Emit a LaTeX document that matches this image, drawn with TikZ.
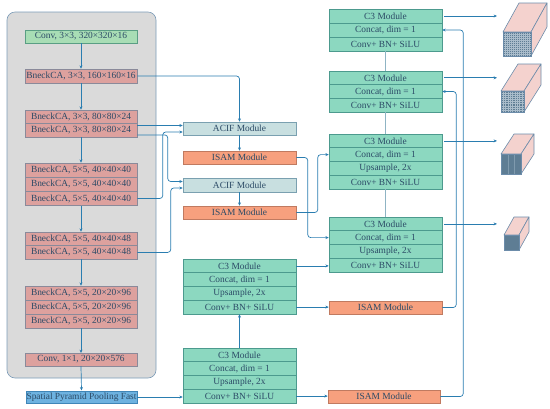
\documentclass[tikz,border=0pt]{standalone}
\usepackage{fontspec}
\setmainfont{Liberation Serif}
\usetikzlibrary{arrows.meta}
\definecolor{txt}{HTML}{2B4A66}
\definecolor{arrc}{HTML}{2A7DB0}
\definecolor{gfill}{HTML}{A8DDB5}
\definecolor{gdraw}{HTML}{5A9E84}
\definecolor{pfill}{HTML}{DDA19E}
\definecolor{pdraw}{HTML}{8A8A9A}
\definecolor{afill}{HTML}{C8DFE0}
\definecolor{adraw}{HTML}{7AA0B0}
\definecolor{ofill}{HTML}{F7A07E}
\definecolor{odraw}{HTML}{C07A60}
\definecolor{cfill}{HTML}{8CD8C0}
\definecolor{cdraw}{HTML}{4C9A8E}
\definecolor{sfill}{HTML}{6DB2E0}
\definecolor{sdraw}{HTML}{3F86B8}
\definecolor{panelc}{HTML}{DADADA}
\definecolor{paneld}{HTML}{7C9CB8}
\definecolor{cubetop}{HTML}{F4D2CE}
\definecolor{cubefront}{HTML}{5E7D94}
\definecolor{cubeedge}{HTML}{6C8CAA}
\definecolor{gridc}{HTML}{A9BCCB}
\definecolor{gridd}{HTML}{7F9AAE}
\definecolor{linkc}{HTML}{8FB4C4}
\newcommand\mycube[6]{%
  \draw[cubeedge, line width=0.6pt, fill=cubetop, line join=round]
    (#1,#2) -- ({#1+#3},#2) -- ({#1+#3+#5},{#2+#6}) -- ({#1+#5},{#2+#6}) -- cycle;
  \draw[cubeedge, line width=0.6pt, fill=cubetop, line join=round]
    ({#1+#3},#2) -- ({#1+#3+#5},{#2+#6}) -- ({#1+#3+#5},{#2+#4+#6}) -- ({#1+#3},{#2+#4}) -- cycle;
  \draw[cubeedge, line width=0.6pt, fill=cubefront] (#1,#2) rectangle ({#1+#3},{#2+#4});
}
\begin{document}
\begin{tikzpicture}[x=1pt,y=-1pt,
  font=\fontsize{9.4}{10}\selectfont,
  box/.style={draw, line width=0.5pt, minimum width=113pt, minimum height=13.7pt, inner sep=0pt, text=txt},
  gbox/.style={box, minimum width=112pt, fill=gfill, draw=gdraw},
  pbox/.style={box, minimum width=112pt, fill=pfill, draw=pdraw},
  abox/.style={box, fill=afill, draw=adraw},
  obox/.style={box, fill=ofill, draw=odraw},
  cbox/.style={box, fill=cfill, draw=cdraw},
  sbox/.style={box, minimum width=111pt, fill=sfill, draw=sdraw},
  arr/.style={draw=arrc, line width=0.7pt, rounded corners=3pt, -{Stealth[length=3.4pt,width=3pt]}},
  link/.style={draw=linkc, line width=0.6pt},
  gridline/.style={draw=gridc, line width=0.25pt}
]
\useasboundingbox (0,0) rectangle (550,408);
% backbone panel
\draw[fill=panelc, draw=paneld, line width=0.6pt, rounded corners=8pt] (7,12) rectangle (156,378);

% left column
\node[gbox, minimum height=13pt] (conv0) at (81,36.5) {Conv, 3×3, 320×320×16};
\node[pbox, minimum height=14pt] (b160) at (81,76) {BneckCA, 3×3, 160×160×16};
\node[pbox, minimum height=13.6pt] (b80a) at (81,116.8) {BneckCA, 3×3, 80×80×24};
\node[pbox, minimum height=13.6pt] (b80b) at (81,130.4) {BneckCA, 3×3, 80×80×24};
\node[pbox, minimum height=14.2pt] (b40a) at (81,170.1) {BneckCA, 5×5, 40×40×40};
\node[pbox, minimum height=14.2pt] (b40b) at (81,184.3) {BneckCA, 5×5, 40×40×40};
\node[pbox, minimum height=14.2pt] (b40c) at (81,198.5) {BneckCA, 5×5, 40×40×40};
\node[pbox, minimum height=13.6pt] (b48a) at (81,238.8) {BneckCA, 5×5, 40×40×48};
\node[pbox, minimum height=13.6pt] (b48b) at (81,252.4) {BneckCA, 5×5, 40×40×48};
\node[pbox, minimum height=14pt] (b96a) at (81,293) {BneckCA, 5×5, 20×20×96};
\node[pbox, minimum height=14pt] (b96b) at (81,307) {BneckCA, 5×5, 20×20×96};
\node[pbox, minimum height=14pt] (b96c) at (81,321) {BneckCA, 5×5, 20×20×96};
\node[pbox, minimum height=12.5pt] (conv1) at (81,359.5) {Conv, 1×1, 20×20×576};
\node[sbox, minimum height=12.5pt] (sppf) at (81.5,397) {Spatial Pyramid Pooling Fast};

\draw[arr] (conv0.south) -- (b160.north);
\draw[arr] (b160.south) -- (b80a.north);
\draw[arr] (b80b.south) -- (b40a.north);
\draw[arr] (b40c.south) -- (b48a.north);
\draw[arr] (b48b.south) -- (b96a.north);
\draw[arr] (b96c.south) -- (conv1.north);
\draw[arr] (conv1.south) -- (sppf.north);

% middle column
\node[abox, minimum height=13pt] (acif1) at (239.5,128.5) {ACIF Module};
\node[obox, minimum height=13pt] (isam1) at (239.5,157.5) {ISAM Module};
\node[abox, minimum height=13.5pt] (acif2) at (239.5,185) {ACIF Module};
\node[obox, minimum height=13pt] (isam2) at (239.5,212.5) {ISAM Module};

\node[cbox, minimum height=13.75pt] (mu1) at (239.5,265.9) {C3 Module};
\node[cbox, minimum height=13.75pt] (mu2) at (239.5,279.6) {Concat, dim = 1};
\node[cbox, minimum height=13.75pt] (mu3) at (239.5,293.4) {Upsample, 2x};
\node[cbox, minimum height=13.75pt] (mu4) at (239.5,307.1) {Conv+ BN+ SiLU};

\node[cbox, minimum height=13.75pt] (ml1) at (239.5,354.9) {C3 Module};
\node[cbox, minimum height=13.75pt] (ml2) at (239.5,368.6) {Concat, dim = 1};
\node[cbox, minimum height=13.75pt] (ml3) at (239.5,382.4) {Upsample, 2x};
\node[cbox, minimum height=13.75pt] (ml4) at (239.5,396.1) {Conv+ BN+ SiLU};

% right column
\node[cbox, minimum height=14pt] (ra1) at (385.5,16) {C3 Module};
\node[cbox, minimum height=14pt] (ra2) at (385.5,30) {Concat, dim = 1};
\node[cbox, minimum height=14pt] (ra3) at (385.5,44) {Conv+ BN+ SiLU};

\node[cbox, minimum height=13.7pt] (rb1) at (385.5,77.8) {C3 Module};
\node[cbox, minimum height=13.7pt] (rb2) at (385.5,91.5) {Concat, dim = 1};
\node[cbox, minimum height=13.7pt] (rb3) at (385.5,105.2) {Conv+ BN+ SiLU};

\node[cbox, minimum height=13.75pt] (rc1) at (385.5,140.9) {C3 Module};
\node[cbox, minimum height=13.75pt] (rc2) at (385.5,154.6) {Concat, dim = 1};
\node[cbox, minimum height=13.75pt] (rc3) at (385.5,168.4) {Upsample, 2x};
\node[cbox, minimum height=13.75pt] (rc4) at (385.5,182.1) {Conv+ BN+ SiLU};

\node[cbox, minimum height=13.75pt] (rd1) at (385.5,223.9) {C3 Module};
\node[cbox, minimum height=13.75pt] (rd2) at (385.5,237.6) {Concat, dim = 1};
\node[cbox, minimum height=13.75pt] (rd3) at (385.5,251.4) {Upsample, 2x};
\node[cbox, minimum height=13.75pt] (rd4) at (385.5,265.1) {Conv+ BN+ SiLU};

\node[obox, minimum height=13pt] (isr1) at (385.5,307.5) {ISAM Module};
\node[obox, minimum height=13pt, minimum width=112pt] (isr2) at (384,396.5) {ISAM Module};

% links in right column
\draw[link] (ra3.south) -- (rb1.north);
\draw[link] (rb3.south) -- (rc1.north);
\draw[link] (rc4.south) -- (rd1.north);

% backbone to ACIF
\coordinate (a1i1) at ([yshift=3pt]acif1.west);
\coordinate (a1i2) at ([yshift=-3.5pt]acif1.west);
\coordinate (a2i1) at ([yshift=3.5pt]acif2.west);
\coordinate (a2i2) at ([yshift=-3pt]acif2.west);
\draw[arr] (b160.east) -| (acif1.north);
\draw[arr] (b80b.east |- a1i1) -- (a1i1);
\draw[arr] ([yshift=-4.5pt]b80b.east) -| ([xshift=-15pt]a2i1) -- (a2i1);
\draw[arr] (b40c.east) -| ([xshift=-20pt]a1i2) -- (a1i2);
\draw[arr] (b48b.east) -| ([xshift=-12pt]a2i2) -- (a2i2);
\draw[arr] (acif1.south) -- (isam1.north);
\draw[arr] (acif2.south) -- (isam2.north);

% ISAM to right C3
\draw[arr] (isam1.east) -| ([xshift=-21pt]rd2.west) -- (rd2.west);
\draw[arr] (isam2.east) -| ([xshift=-11pt]rc2.west) -- (rc2.west);

% middle C3 connections
\draw[arr] (mu1.east) -- (mu1.east -| rd4.west);
\draw[arr] (mu4.east) -- (mu4.east -| isr1.west);
\draw[arr] (ml1.north) -- (mu4.south);
\draw[arr] (sppf.east) -- (sppf.east -| ml4.west);
\draw[arr] (ml4.east) -- (ml4.east -| isr2.west);

% right ISAM up to top C3s
\draw[arr] (isr1.east) -| ([xshift=14pt]rb2.east) -- (rb2.east);
\draw[arr] (isr2.east) -| ([xshift=21pt]ra2.east) -- (ra2.east);

% outputs to cubes
\coordinate (k1) at (495,16);
\coordinate (k2) at (495,77.8);
\coordinate (k3) at (495,141.5);
\coordinate (k4) at (495,224.5);
\draw[arr] ([xshift=2pt]ra1.east) -- ([xshift=2pt]ra1.east -| k1);
\draw[arr] ([xshift=2pt]rb1.east) -- ([xshift=2pt]rb1.east -| k2);
\draw[arr] ([xshift=2pt]rc1.east) -- ([xshift=2pt]rc1.east -| k3);
\draw[arr] ([xshift=2pt]rd1.east) -- ([xshift=2pt]rd1.east -| k4);

% cubes
\mycube{503}{32}{28}{24}{16}{-29}
\foreach \i in {1,...,13} \draw[gridline] ({503+\i*2},32) -- ({503+\i*2},56);
\foreach \i in {1,...,11} \draw[gridline] (503,{32+\i*2}) -- (531,{32+\i*2});
\draw[cubeedge, line width=0.6pt] (503,32) rectangle (531,56);

\mycube{501}{91}{23}{21}{17}{-27}
\foreach \i in {1,...,9} \draw[gridline] ({501+\i*2.3},91) -- ({501+\i*2.3},112);
\foreach \i in {1,...,9} \draw[gridline] (501,{91+\i*2.1}) -- (524,{91+\i*2.1});
\draw[cubeedge, line width=0.6pt] (501,91) rectangle (524,112);

\mycube{501}{154}{20}{20}{13}{-20}
\foreach \i in {1,2} \draw[draw=gridd, line width=0.3pt] ({501+\i*6.67},154) -- ({501+\i*6.67},174);
\draw[cubeedge, line width=0.6pt] (501,154) rectangle (521,174);

\mycube{504}{235}{15}{15}{10}{-18}
\end{tikzpicture}
\end{document}
